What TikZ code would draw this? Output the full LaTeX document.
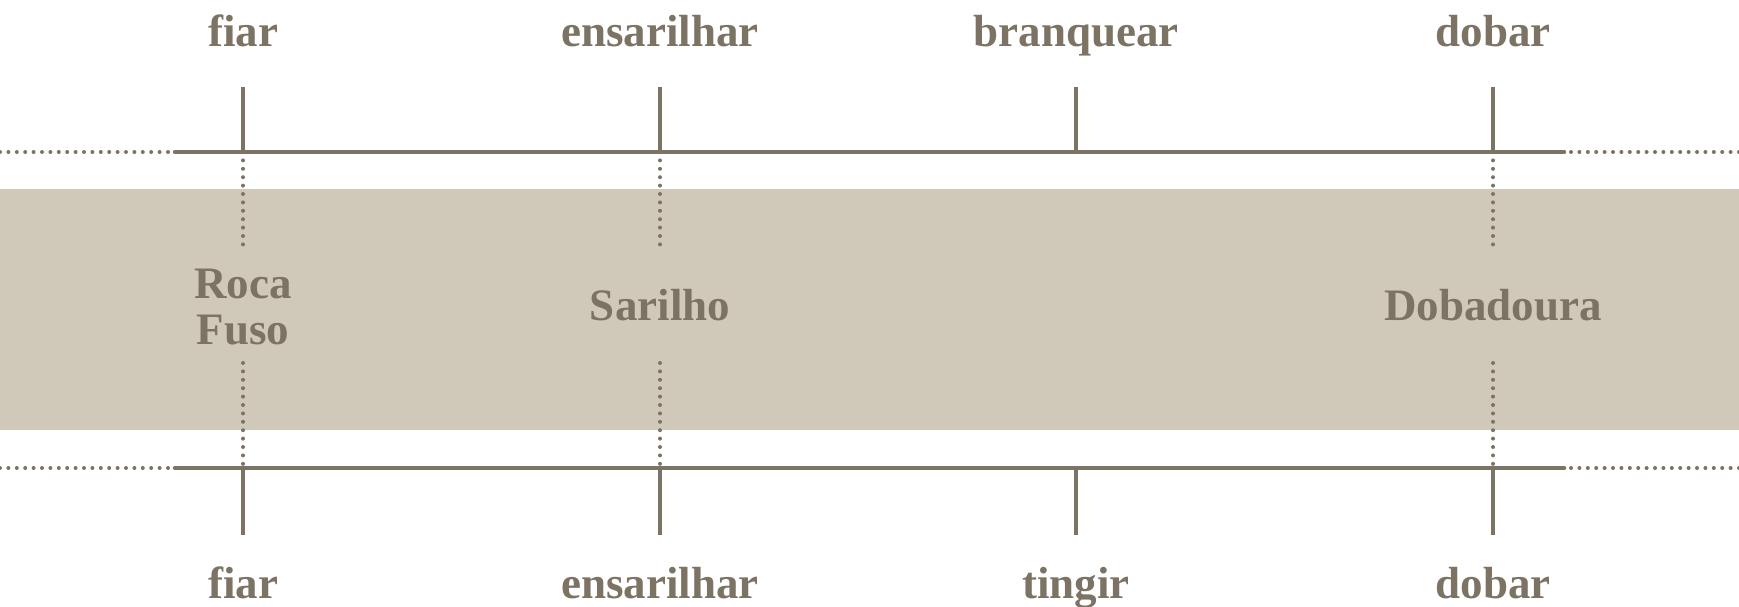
\documentclass[tikz,border=0pt]{standalone}
\usepackage{fontspec}
\setmainfont{Liberation Serif}
\definecolor{ink}{RGB}{125,115,101}
\definecolor{bandcol}{RGB}{208,200,185}
\tikzset{
  lbl/.style={anchor=base,inner sep=0pt,text=ink,font=\bfseries\fontsize{45}{46}\selectfont},
  solidline/.style={draw=ink,line width=4.5pt,line cap=round},
  tickline/.style={draw=ink,line width=4.5pt},
  dotline/.style={draw=ink,line width=4pt,line cap=round,dash pattern=on 0pt off 8.4pt}
}
\begin{document}
\begin{tikzpicture}[x=1pt,y=-1pt]
\useasboundingbox (0,0) rectangle (1739,606);
\fill[bandcol] (0,188.5) rectangle (1739,430);

% columns
\foreach \n/\x in {a/243,b/660,c/1076,d/1493}{
  \coordinate (\n tt) at (\x,86.5);
  \coordinate (\n tl) at (\x,152);
  \coordinate (\n tm) at (\x,251);
  \coordinate (\n bm) at (\x,363);
  \coordinate (\n bl) at (\x,468);
  \coordinate (\n bb) at (\x,534.5);
}
% horizontal line ends
\coordinate (tL0) at (0,152);
\coordinate (tL1) at (168,152);
\coordinate (tS0) at (175,152);
\coordinate (tS1) at (1564,152);
\coordinate (tR0) at (1571,152);
\coordinate (tR1) at (1739,152);
\coordinate (bL0) at (0,468);
\coordinate (bL1) at (168,468);
\coordinate (bS0) at (175,468);
\coordinate (bS1) at (1564,468);
\coordinate (bR0) at (1571,468);
\coordinate (bR1) at (1739,468);

% top labels
\node[lbl] (ta) at (243,46.6) {fiar};
\node[lbl] (tb) at (660,46.6) {ensarilhar};
\node[lbl] (tc) at (1076,46.6) {branquear};
\node[lbl] (td) at (1493,46.6) {dobar};
% bottom labels
\node[lbl] (ba) at (243,598) {fiar};
\node[lbl] (bb) at (660,598) {ensarilhar};
\node[lbl] (bc) at (1076,598) {tingir};
\node[lbl] (bd) at (1493,598) {dobar};
% tools
\node[lbl] (roca) at (243,298) {Roca};
\node[lbl] (fuso) at (243,344) {Fuso};
\node[lbl] (sar) at (660,320.5) {Sarilho};
\node[lbl] (dob) at (1493,320.5) {Dobadoura};

% horizontal lines
\draw[solidline] (tS0) -- (tS1);
\draw[solidline] (bS0) -- (bS1);
\draw[dotline] (tL0) -- (tL1);
\draw[dotline] (tR0) -- (tR1);
\draw[dotline] (bL0) -- (bL1);
\draw[dotline] (bR0) -- (bR1);

% ticks
\foreach \n in {a,b,c,d}{
  \draw[tickline] (\n tt) -- (\n tl);
  \draw[tickline] (\n bl) -- (\n bb);
}
% dotted verticals
\foreach \n in {a,b,d}{
  \draw[dotline] (\n tl) ++(0,8.4) -- (\n tm);
  \draw[dotline] (\n bm) -- (\n bl);
}
\end{tikzpicture}
\end{document}
